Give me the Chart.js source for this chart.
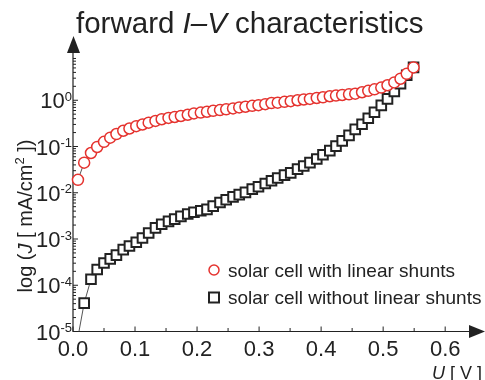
<!DOCTYPE html>
<html>
<head>
<meta charset="utf-8">
<script src="https://cdn.jsdelivr.net/npm/chart.js@4.4.1/dist/chart.umd.min.js"></script>
<style>
  html, body { margin: 0; padding: 0; background: #fff; }
  #wrap { width: 485px; height: 380px; position: relative; }
</style>
</head>
<body>
<div id="wrap"><canvas id="ivChart"></canvas></div>
<script>
// forward bias voltage [V], shared by both curves
const voltage = [
  0.008, 0.018, 0.029, 0.039, 0.050, 0.060, 0.070, 0.081, 0.091, 0.102,
  0.112, 0.122, 0.133, 0.143, 0.154, 0.164, 0.174, 0.185, 0.195, 0.206,
  0.216, 0.226, 0.237, 0.247, 0.258, 0.268, 0.278, 0.289, 0.299, 0.310,
  0.320, 0.330, 0.341, 0.351, 0.362, 0.372, 0.382, 0.393, 0.403, 0.414,
  0.424, 0.434, 0.445, 0.455, 0.466, 0.476, 0.486, 0.497, 0.507, 0.518,
  0.528, 0.538, 0.549
];

// current density [mA/cm2], cell with linear shunts
const jShunted = [
  0.019, 0.0447, 0.0724, 0.0977, 0.126, 0.155, 0.186, 0.219, 0.245, 0.275,
  0.299, 0.327, 0.357, 0.389, 0.415, 0.435, 0.457, 0.486, 0.519, 0.542,
  0.565, 0.592, 0.614, 0.635, 0.667, 0.700, 0.723, 0.757, 0.783, 0.822,
  0.871, 0.887, 0.923, 0.955, 1.00, 1.04, 1.07, 1.12, 1.16, 1.22,
  1.26, 1.30, 1.34, 1.39, 1.49, 1.60, 1.72, 1.88, 2.11, 2.43,
  2.92, 3.72, 5.13
];

// current density [mA/cm2], cell without linear shunts
const jClean = [
  7.6e-6, 4.1e-5, 1.35e-4, 2.19e-4, 3.02e-4, 3.72e-4, 4.47e-4, 5.89e-4, 7.08e-4, 8.51e-4,
  1.05e-3, 1.35e-3, 1.74e-3, 2.09e-3, 2.40e-3, 2.69e-3, 3.09e-3, 3.47e-3, 3.80e-3, 4.07e-3,
  4.37e-3, 5.13e-3, 6.17e-3, 7.08e-3, 8.13e-3, 9.12e-3, 0.0102, 0.0120, 0.0135, 0.0158,
  0.0182, 0.0209, 0.0240, 0.0269, 0.0324, 0.0380, 0.0447, 0.0537, 0.0661, 0.0813,
  0.102, 0.132, 0.174, 0.234, 0.302, 0.407, 0.550, 0.776, 1.07, 1.55,
  2.29, 3.47, 5.13
];

const xTicks = [0, 0.1, 0.2, 0.3, 0.4, 0.5, 0.6];
const yExponents = [-5, -4, -3, -2, -1, 0];
const seriesNames = ['solar cell with linear shunts', 'solar cell without linear shunts'];

const FONT = '"Liberation Sans", Arial, sans-serif';
const RED = '#e5332f';
const DARK = '#222';

function toPoints(xs, ys) {
  return xs.map((v, i) => ({ x: v, y: ys[i] }));
}

// draws runs of text like [['log (', ''], ['J', 'italic']] starting at x
function drawRuns(ctx, runs, x, y, size) {
  let cx = x;
  for (const [txt, style] of runs) {
    if (style === 'sup') {
      ctx.font = `${Math.round(size * 0.65)}px ${FONT}`;
      ctx.fillText(txt, cx, y - size * 0.4);
    } else {
      ctx.font = `${style === 'italic' ? 'italic ' : ''}${size}px ${FONT}`;
      ctx.fillText(txt, cx, y);
    }
    cx += ctx.measureText(txt).width;
  }
  return cx - x;
}

function runsWidth(ctx, runs, size) {
  let w = 0;
  for (const [txt, style] of runs) {
    if (style === 'sup') ctx.font = `${Math.round(size * 0.65)}px ${FONT}`;
    else ctx.font = `${style === 'italic' ? 'italic ' : ''}${size}px ${FONT}`;
    w += ctx.measureText(txt).width;
  }
  return w;
}

const axesPlugin = {
  id: 'arrowAxes',
  beforeDatasetsDraw(chart) {
    const { ctx, chartArea: a, scales: { x, y } } = chart;
    const x0 = a.left, y0 = a.bottom;
    ctx.save();
    ctx.strokeStyle = DARK;
    ctx.fillStyle = DARK;
    ctx.lineWidth = 1.2;

    // axis lines
    ctx.beginPath();
    ctx.moveTo(x0, y0);
    ctx.lineTo(x0, 46);
    ctx.moveTo(x0, y0);
    ctx.lineTo(476, y0);
    ctx.stroke();

    // arrow heads
    ctx.beginPath();
    ctx.moveTo(x0 + 0.5, 36);
    ctx.lineTo(x0 - 6, 53);
    ctx.lineTo(x0 + 7, 53);
    ctx.closePath();
    ctx.fill();
    ctx.beginPath();
    ctx.moveTo(485, y0);
    ctx.lineTo(469, y0 - 6.5);
    ctx.lineTo(469, y0 + 6.5);
    ctx.closePath();
    ctx.fill();

    // y ticks, major decades and minor 2..9
    ctx.lineWidth = 1;
    ctx.beginPath();
    for (const e of yExponents) {
      const py = y.getPixelForValue(Math.pow(10, e));
      ctx.moveTo(x0, py);
      ctx.lineTo(x0 + 5, py);
      for (let m = 2; m <= 9; m++) {
        const pm = y.getPixelForValue(m * Math.pow(10, e));
        if (pm < 58) break;
        ctx.moveTo(x0, pm);
        ctx.lineTo(x0 + 3, pm);
      }
    }
    // x ticks every 0.05
    for (let i = 0; i <= 12; i++) {
      const px = x.getPixelForValue(i * 0.05);
      ctx.moveTo(px, y0);
      ctx.lineTo(px, y0 - (i % 2 === 0 ? 5 : 3.5));
    }
    ctx.stroke();
    ctx.restore();
  },
  afterDraw(chart) {
    const { ctx, chartArea: a, scales: { x, y } } = chart;
    ctx.save();
    ctx.fillStyle = DARK;
    ctx.textBaseline = 'alphabetic';

    // y tick labels 10^n
    for (const e of yExponents) {
      const py = y.getPixelForValue(Math.pow(10, e));
      const sup = String(e);
      ctx.font = `13px ${FONT}`;
      const sw = ctx.measureText(sup).width;
      ctx.fillText(sup, 72 - sw, py + 0.5);
      ctx.font = `22px ${FONT}`;
      const bw = ctx.measureText('10').width;
      ctx.fillText('10', 72 - sw - bw, py + 8);
    }

    // x tick labels
    ctx.font = `22px ${FONT}`;
    ctx.textAlign = 'center';
    for (const v of xTicks) {
      ctx.fillText(v.toFixed(1), x.getPixelForValue(v), 356);
    }
    ctx.textAlign = 'left';

    // title
    drawRuns(ctx, [['forward ', ''], ['I\u2013V', 'italic'], [' characteristics', '']], 76, 33, 29.5);

    // x axis title
    drawRuns(ctx, [['U', 'italic'], [' [ V ]', '']], 432, 379, 18);

    // y axis title
    const yRuns = [['log (', ''], ['J', 'italic'], [' [ mA/cm', ''], ['2', 'sup'], [' ])', '']];
    const yw = runsWidth(ctx, yRuns, 20);
    ctx.translate(32, 216);
    ctx.rotate(-Math.PI / 2);
    drawRuns(ctx, yRuns, -yw / 2, 0, 20);
    ctx.setTransform(1, 0, 0, 1, 0, 0);

    // legend
    const sets = chart.data.datasets;
    const rows = [270, 297.5];
    sets.forEach((ds, i) => {
      ctx.save();
      ctx.strokeStyle = ds.borderColor;
      ctx.lineWidth = ds.pointBorderWidth;
      ctx.fillStyle = '#fff';
      if (ds.pointStyle === 'circle') {
        ctx.beginPath();
        ctx.arc(214, rows[i], 5, 0, Math.PI * 2);
        ctx.fill();
        ctx.stroke();
      } else {
        ctx.fillRect(209, rows[i] - 5, 10, 10);
        ctx.strokeRect(209, rows[i] - 5, 10, 10);
      }
      ctx.restore();
      ctx.font = `19px ${FONT}`;
      ctx.fillStyle = DARK;
      ctx.fillText(seriesNames[i], 228, rows[i] + 6.5);
    });
    ctx.restore();
  }
};

const ctx = document.getElementById('ivChart').getContext('2d');
new Chart(ctx, {
  type: 'scatter',
  data: {
    datasets: [
      {
        label: seriesNames[0],
        data: toPoints(voltage, jShunted),
        showLine: true,
        borderColor: RED,
        borderWidth: 1,
        pointStyle: 'circle',
        pointRadius: 5.5,
        pointBorderWidth: 1.5,
        pointBorderColor: RED,
        pointBackgroundColor: '#fff',
        segment: { borderColor: '#555' },
        clip: { left: 10, top: 10, right: 10, bottom: 0 }
      },
      {
        label: seriesNames[1],
        data: toPoints(voltage, jClean),
        showLine: true,
        borderColor: DARK,
        borderWidth: 1,
        pointStyle: 'rect',
        pointRadius: 6.8,
        pointBorderWidth: 2,
        pointBorderColor: DARK,
        pointBackgroundColor: '#fff',
        segment: { borderColor: '#555' },
        clip: { left: 10, top: 10, right: 10, bottom: 0 }
      }
    ]
  },
  options: {
    responsive: true,
    maintainAspectRatio: false,
    animation: false,
    devicePixelRatio: 1,
    layout: { padding: { left: 73, right: 1, top: 54, bottom: 48.5 } },
    plugins: {
      legend: { display: false },
      tooltip: { enabled: false },
      title: { display: false }
    },
    scales: {
      x: { type: 'linear', min: 0, max: 0.65, display: false },
      y: { type: 'logarithmic', min: 1e-5, max: 10, display: false }
    }
  },
  plugins: [axesPlugin]
});
</script>
</body>
</html>
